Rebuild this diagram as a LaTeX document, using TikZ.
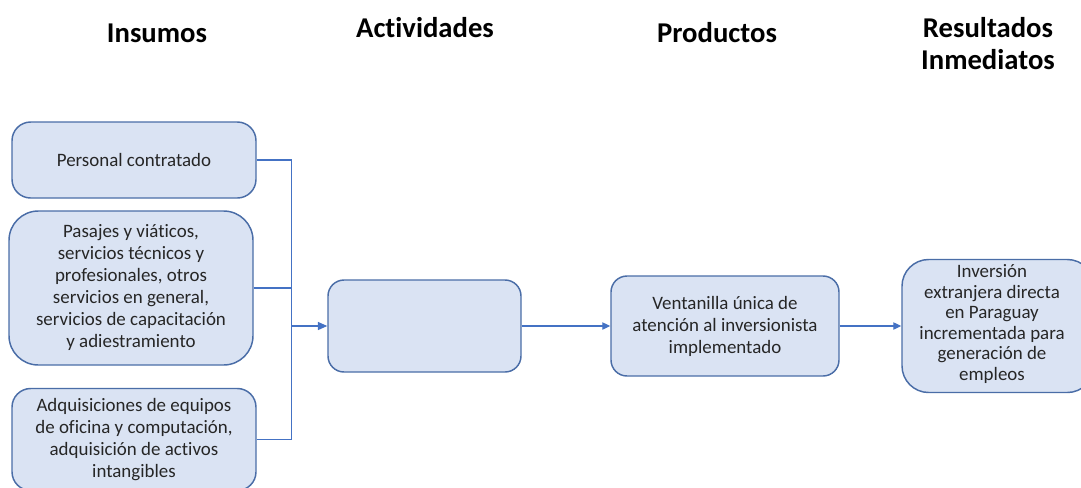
\documentclass[tikz,border=0pt]{standalone}
\usepackage{fontspec}
\setmainfont{Carlito}[Ligatures=NoCommon]
\usetikzlibrary{arrows.meta}
\definecolor{boxfill}{HTML}{DAE3F3}
\definecolor{boxline}{HTML}{4A6DA7}
\definecolor{conn}{HTML}{4472C4}
\definecolor{txt}{HTML}{262626}
\begin{document}
\begin{tikzpicture}[x=0.75pt,y=-0.75pt,
  box/.style={draw=boxline, fill=boxfill, line width=1.1pt, align=center, text=txt,
    font=\fontsize{14.2}{16.5}\selectfont, inner sep=0pt},
  head/.style={font=\fontsize{21.5}{24}\selectfont\bfseries, align=center, text=black},
  conline/.style={draw=conn, line width=0.9pt},
  arr/.style={conline, -{Triangle[length=7pt,width=6pt]}},
  arrs/.style={conline, -{Triangle[length=6pt,width=5.5pt]}}]
\useasboundingbox (0,0) rectangle (1081,487);
% headings
\node[head] (h1) at (157,33) {Insumos};
\node[head] (h2) at (425,28) {Actividades};
\node[head] (h3) at (717,33) {Productos};
\node[head] (h4) at (988,44) {Resultados\\Inmediatos};
% boxes
\node[box, rounded corners=14pt, minimum width=183pt, minimum height=57pt] (b1) at (134,160) {Personal contratado};
\node[box, rounded corners=22pt, minimum width=183pt, minimum height=115.5pt] (b2) at (131,288) {Pasajes y viáticos,\\servicios técnicos y\\profesionales, otros\\servicios en general,\\servicios de capacitación\\y adiestramiento};
\node[box, rounded corners=14pt, minimum width=183pt, minimum height=76.5pt] (b3) at (134,439.5) {};
\node[text=txt, align=center, font=\fontsize{14.2}{16.5}\selectfont] (t3) at (134,440) {Adquisiciones de equipos\\de oficina y computación,\\adquisición de activos\\intangibles};
\node[box, rounded corners=12pt, minimum width=144.75pt, minimum height=69pt] (b4) at (424.5,326) {};
\node[box, rounded corners=12pt, minimum width=171pt, minimum height=75pt] (b5) at (725,326) {Ventanilla única de\\atención al inversionista\\implementado};
\node[box, rounded corners=20pt, minimum width=144pt, minimum height=99.75pt] (b6) at (998,326) {};
\node[text=txt, align=center, font=\fontsize{14.2}{15.4}\selectfont] (t6) at (992,324) {Inversión\\extranjera directa\\en Paraguay\\incrementada para\\generación de\\empleos};
% connectors
\coordinate (j) at (291.5,326);
\draw[conline] (b1.east) -| (j);
\draw[conline] (b2.east) -| (j);
\draw[conline] (b3.east) -| (j);
\draw[arr] (j) -- (b4.west);
\draw[arrs] (b4.east) -- (b5.west);
\draw[arrs] (b5.east) -- (b6.west);
\end{tikzpicture}
\end{document}
